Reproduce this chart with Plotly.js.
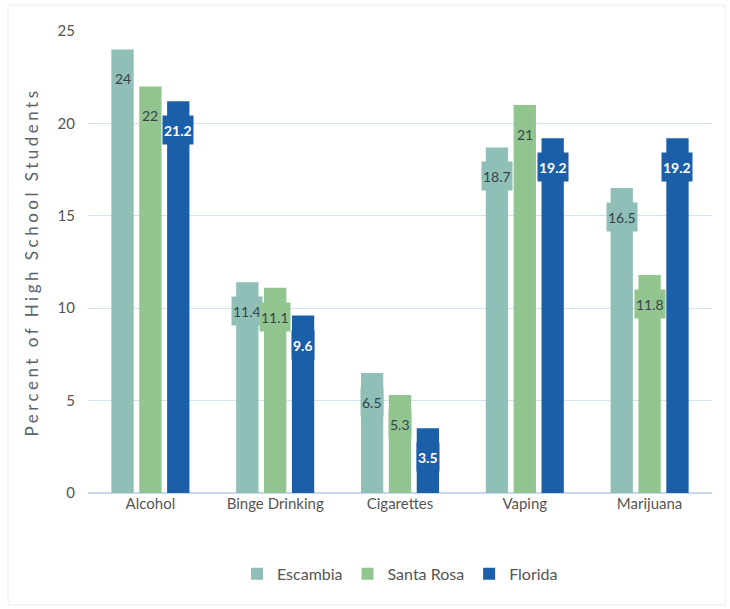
<!DOCTYPE html>
<html>
<head>
<meta charset="utf-8">
<script src="https://cdn.plot.ly/plotly-3.0.1.min.js"></script>
<style>html,body{margin:0;padding:0;background:#fff}#chart{width:730px;height:609px}</style>
</head>
<body>
<div id="chart"></div>
<script>
var categories = ["Alcohol", "Binge Drinking", "Cigarettes", "Vaping", "Marijuana"];
var seriesNames = ["Escambia", "Santa Rosa", "Florida"];
var escambia = [24, 11.4, 6.5, 18.7, 16.5];
var santaRosa = [22, 11.1, 5.3, 21, 11.8];
var florida = [21.2, 9.6, 3.5, 19.2, 19.2];
var yTicks = [0, 5, 10, 15, 20, 25];

var colors = ["#8fbfb6", "#91c48f", "#1b5fa9"];
var labelColors = ["#37434a", "#37434a", "#ffffff"];
var FONT = "Lato, 'Noto Sans', sans-serif";
var seriesValues = [escambia, santaRosa, florida];

var bargap = 0.33, bargroupgap = 0.2;
var slot = (1 - bargap) / 3;

var traces = seriesValues.map(function (vals, i) {
  return {
    type: "bar",
    name: seriesNames[i],
    x: categories,
    y: vals,
    marker: {color: colors[i]},
    hoverinfo: "x+y+name"
  };
});

var annotations = [];
seriesValues.forEach(function (vals, i) {
  vals.forEach(function (v, j) {
    annotations.push({
      xref: "x", yref: "y",
      x: j + (i - 1) * slot,
      y: v,
      yanchor: "top",
      yshift: -14,
      height: 26,
      valign: "middle",
      text: String(v),
      showarrow: false,
      bgcolor: colors[i],
      borderpad: 1,
      font: {family: FONT, size: 14, color: labelColors[i], weight: i === 2 ? "bold" : "normal"}
    });
  });
});

var layout = {
  width: 730, height: 609,
  margin: {l: 88, r: 18, t: 31, b: 116},
  paper_bgcolor: "#ffffff",
  plot_bgcolor: "#ffffff",
  barmode: "group",
  bargap: bargap,
  bargroupgap: bargroupgap,
  showlegend: true,
  legend: {
    orientation: "h",
    x: 0.5, xanchor: "center",
    y: -0.175, yanchor: "middle",
    font: {family: FONT, size: 16, color: "#555"},
    itemwidth: 30,
    traceorder: "normal"
  },
  xaxis: {
    type: "category",
    tickfont: {family: FONT, size: 15, color: "#555"},
    showgrid: false,
    showline: false,
    ticks: "",
    fixedrange: true
  },
  yaxis: {
    range: [0, 25],
    tickvals: yTicks,
    ticktext: yTicks.map(String),
    tickfont: {family: FONT, size: 15, color: "#555"},
    showgrid: true,
    gridcolor: "#d3e2ef",
    gridwidth: 1,
    zeroline: true,
    zerolinecolor: "#c6d8ea",
    zerolinewidth: 1.5,
    ticks: "",
    ticklabelstandoff: 12,
    title: {text: "Percent of High School Students", font: {family: FONT, size: 17, color: "#5a6470"}, standoff: 14},
    fixedrange: true
  },
  annotations: annotations,
  shapes: [{
    type: "rect", xref: "paper", yref: "paper",
    x0: -0.128, x1: 1.021, y0: -0.242, y1: 1.056,
    line: {color: "#ececec", width: 1}
  }]
};

Plotly.newPlot("chart", traces, layout, {displayModeBar: false, staticPlot: true}).then(function () {
  var t = document.querySelector(".ytitle");
  if (t) t.style.letterSpacing = "3.5px";
});
</script>
</body>
</html>
